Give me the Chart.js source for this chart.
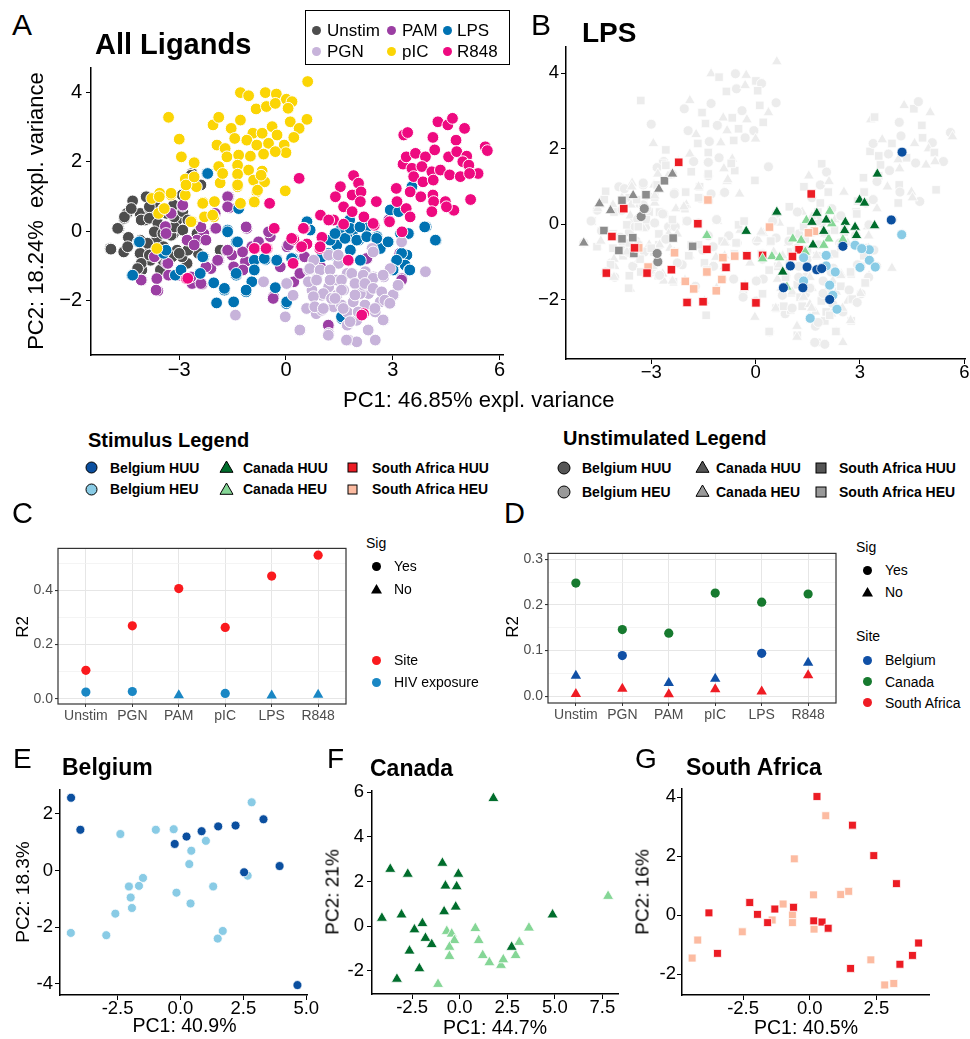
<!DOCTYPE html>
<html>
<head>
<meta charset="utf-8">
<script src="https://cdn.jsdelivr.net/npm/chart.js@4.4.1/dist/chart.umd.min.js"></script>
<style>
  body { margin: 0; background: #fff; font-family: "Liberation Sans", Arial, sans-serif; }
  #fig { position: relative; width: 970px; height: 1039px; overflow: hidden; }
  canvas { position: absolute; z-index: 1; }
  .t { position: absolute; white-space: nowrap; color: #000; line-height: 1; z-index: 2; }
  svg { position: absolute; z-index: 2; overflow: visible; }
  .box { position: absolute; border: 1.5px solid #000; z-index: 2; background: #fff; }
</style>
</head>
<body>
<div id="fig"></div>
<script>
// ---- panel A: all ligands, PC1 / PC2 ----
const unstimA = [[-4.94,-0.5],[-4.55,-0.6],[-4.7,0.08],[-4.55,0.37],[-4.47,0.51],[-4.31,0.87],[-4.43,-0.18],[-4.1,0.51],[-3.91,0.99],[-3.84,0.65],[-3.96,0.32],[-4.1,-0.26],[-4.15,-1.03],[-4.05,-1.12],[-3.81,-0.84],[-3.63,-0.21],[-3.55,0.08],[-3.35,-0.07],[-3.16,-0.07],[-2.9,0.03],[-2.78,0.32],[-2.64,1.66],[-2.43,1.33],[-3.63,0.7],[-3.16,0.75],[-2.92,1.04],[-3.06,0.32],[-3.44,-0.45],[-3.06,-0.55],[-2.78,-0.55],[-3.81,-0.5],[-2.78,-0.93],[-2.92,-0.74],[-3.53,-1.12],[-2.46,-0.64],[-1.85,-0.55],[-2.5,-0.07],[-3.35,0.51],[-4.1,-0.64],[-3.2,-0.74],
  [-4.92,-0.52],[-4.56,-0.6],[-4.73,0.08],[-4.54,0.41],[-4.35,0.65],[-3.93,0.99],[-3.84,0.7],[-4.07,0.32],[-3.84,0.37],[-3.6,0.22],[-3.7,-0.02],[-3.46,-0.07],[-3.23,-0.12],[-3.14,0.12],[-3.14,0.41],[-2.9,0.56],[-2.76,0.32],[-2.9,0.03],[-2.76,-0.55],[-3.0,-0.64],[-3.89,-0.35],[-4.07,-0.93],[-4.17,-1.08],[-3.84,-0.69],[-3.46,-0.84],[-2.67,1.61],[-2.39,1.33],[-4.45,-0.45]];
const pamA = [[-1.61,0.99],[-1.59,0.68],[-1.1,0.08],[-2.9,0.72],[-3.39,0.13],[-1.99,0.51],[-1.99,0.08],[-2.31,-0.07],[-2.5,-0.26],[-2.78,-0.26],[-3.67,-0.74],[-3.35,-0.93],[-3.63,-1.37],[-4.05,-1.41],[-3.6,-1.72],[-3.3,-1.27],[-3.0,-1.27],[-2.64,-1.51],[-2.36,-1.53],[-2.11,-1.08],[-1.89,-0.84],[-1.66,-0.57],[-1.52,-0.69],[-1.14,-0.88],[-0.96,-0.45],[-0.77,-0.31],[-0.44,-0.16],[-0.49,-0.02],[0.03,-0.45],[-0.16,-1.03],[-0.35,-1.89],[0.22,-1.46],[1.2,-2.71],[2.28,-0.79],[3.2,-0.64],[3.26,-1.37],[2.89,0.32],[0.97,-1.03],[0.52,-0.74],[-1.47,-1.03],[-1.21,-1.12],
  [-2.9,0.75],[-2.39,0.12],[-1.97,0.08],[-1.64,0.99],[-1.64,0.7],[-1.12,0.12],[-3.7,-0.74],[-3.32,-0.93],[-3.0,-1.22],[-4.07,-1.41],[-3.65,-1.7],[-2.58,-0.4],[-2.25,-0.26],[-1.92,-0.84],[-2.25,-1.03],[-2.39,-1.51],[-1.64,-0.55],[-1.22,-0.6],[-2.67,-1.32],[-3.37,-0.07],[-3.23,0.51],[0.07,-0.4],[0.39,-1.22],[-0.36,-1.94],[1.19,-2.71],[2.27,-0.79],[3.25,-1.41]];
const lpsA = [[-2.22,1.66],[-1.33,0.65],[-1.64,0.03],[-1.4,-0.31],[-2.31,-0.74],[-1.4,-1.27],[-2.03,-1.49],[-1.73,-1.7],[-1.95,-2.07],[-1.47,-2.04],[-1.12,-1.75],[-0.96,-1.46],[-0.89,-0.84],[-0.58,-0.82],[-0.25,-0.82],[-0.3,-1.63],[0.01,-2.09],[0.2,-0.79],[-4.33,-1.27],[-4.15,-0.31],[-3.44,-0.64],[-3.11,-1.27],[-2.41,-1.22],[0.59,0.27],[0.68,0.03],[1.01,-0.74],[1.34,-0.69],[1.53,0.03],[1.79,0.32],[1.9,0.03],[1.72,-0.18],[2.04,-0.26],[1.81,-0.55],[2.09,-0.84],[1.43,-0.4],[1.24,-0.26],[2.28,0.12],[2.56,-0.16],[2.89,-0.31],[2.65,-0.5],[3.26,-0.69],[3.4,-0.69],[3.35,-0.98],[3.47,-1.12],[3.03,-1.12],[3.22,-0.07],[2.93,0.61],[3.17,0.56],[3.45,-0.07],[3.54,1.28],[3.94,0.12],[4.22,-0.26],[1.57,-2.52],
  [1.66,-0.21],[1.99,-0.26],[2.27,-0.16],[1.8,0.08],[2.08,0.12],[2.55,-0.21],[2.87,-0.31],[3.25,-0.64],[3.11,-0.84],[3.48,-1.12],[3.01,-1.12],[1.38,-0.07],[1.19,-0.64],[-0.26,-0.84],[0.16,-0.79],[0.02,-2.04],[1.56,-2.47],[3.9,0.12],[4.2,-0.26],[3.44,-0.07],
  [-4.12,-0.31],[-3.37,-0.55],[-2.34,-0.74],[-1.64,-0.02],[-1.36,-0.31],[-0.89,-1.12],[-1.4,-1.22],[-1.73,-1.65],[-1.12,-1.7],[-0.61,-0.79],[-4.31,-1.27],[-2.95,-1.12],[-2.2,1.66]];
const pgnA = [[1.48,-0.72],[0.78,-0.84],[0.64,-1.12],[0.87,-1.37],[0.73,-1.7],[0.59,-2.23],[0.85,-2.38],[1.01,-1.85],[1.2,-1.61],[1.43,-1.41],[1.72,-1.22],[1.86,-1.22],[2.23,-1.17],[2.46,-1.32],[2.75,-1.32],[2.93,-1.08],[3.26,-0.31],[3.16,-1.56],[3.03,-1.85],[2.65,-2.04],[2.75,-2.57],[2.51,-2.33],[2.32,-1.8],[2.09,-1.8],[1.9,-1.99],[1.72,-2.33],[1.99,-2.57],[1.72,-2.71],[2.32,-2.86],[1.76,-3.14],[1.99,-3.19],[2.51,-3.14],[1.2,-2.95],[0.4,-2.86],[-0.02,-2.47],[-1.42,-2.42],[-0.63,-1.46],[0.03,-1.51],[0.2,-1.85],[1.43,-1.85],[1.62,-1.7],[1.34,-2.18],[2.42,-0.5],[3.92,-1.17],[1.2,-0.69],[1.48,-0.93],[2.18,-1.56],[1.01,-2.28],
  [1.47,-0.69],[0.67,-1.08],[0.96,-1.12],[1.24,-1.12],[0.63,-1.46],[0.86,-1.41],[1.24,-1.41],[1.56,-1.41],[1.85,-1.22],[2.17,-1.27],[2.45,-1.36],[2.73,-1.27],[1.94,-1.51],[2.22,-1.51],[2.45,-1.65],[2.69,-1.75],[3.01,-1.84],[3.15,-1.56],[1.56,-1.7],[1.05,-1.8],[1.28,-1.94],[0.77,-1.89],[0.58,-2.23],[0.81,-2.18],[1.05,-2.23],[1.56,-2.13],[1.89,-2.04],[2.22,-2.13],[2.5,-2.23],[2.78,-1.99],[2.92,-2.08],[1.61,-2.23],[2.03,-2.33],[1.8,-2.61],[2.73,-2.56],[2.31,-2.85],[1.7,-3.14],[1.19,-3.0],[0.39,-2.85],[0.02,-1.51],[3.25,-0.31],[2.45,-0.6],[1.94,-1.84],[1.38,-1.94]];
const picA = [[-3.3,3.28],[-3.0,2.65],[-2.94,2.14],[-2.58,1.97],[-2.83,1.5],[-2.52,1.28],[-2.83,1.04],[-3.23,1.04],[-3.55,1.09],[-3.44,0.65],[-2.33,0.83],[-2.29,0.41],[-2.03,0.41],[-2.64,0.27],[-1.28,3.99],[-1.05,3.9],[-0.58,3.99],[-0.27,3.95],[0.01,3.8],[0.17,3.73],[0.61,4.31],[-0.84,3.52],[-0.55,3.59],[-0.3,3.68],[0.06,3.54],[-2.05,3.06],[-1.89,3.28],[-1.54,2.96],[-1.28,3.2],[-0.93,2.82],[-0.67,2.82],[-0.39,3.01],[-0.25,2.77],[0.12,3.15],[0.59,3.22],[0.37,2.96],[0.22,2.7],[-1.94,2.48],[-1.71,2.38],[-1.44,2.67],[-1.1,2.62],[-0.82,2.48],[-0.49,2.53],[-0.05,2.48],[0.0,2.26],[-1.66,2.14],[-1.33,2.19],[-1.0,2.16],[-0.63,2.22],[-0.3,2.29],[-1.89,1.86],[-1.36,1.9],[-1.05,1.76],[-0.67,1.73],[-1.85,1.39],[-1.36,1.64],[-0.91,1.47],[-0.6,1.42],[-1.36,1.28],[-0.82,1.13],[-0.02,1.16],[-1.28,0.8],[-0.91,0.85],[-2.01,0.85],[-3.77,0.94],[-3.58,0.51],[-3.63,-0.5],
  [-3.23,1.09],[-3.56,0.99],[-3.42,0.65],[-2.67,0.27],[-2.81,1.33],[-2.58,1.56],[-2.34,0.8],[-2.06,0.46],[-1.36,1.33],[-0.89,0.84],[-0.8,1.18],[-0.7,1.61],[-1.78,1.66]];
const r848A = [[3.31,2.77],[3.42,2.84],[4.13,2.7],[4.27,3.15],[4.55,3.06],[4.68,3.25],[5.02,2.96],[4.78,2.62],[5.6,2.43],[5.66,2.32],[3.29,1.93],[3.38,2.14],[3.64,2.24],[3.92,2.14],[4.18,2.34],[4.57,2.14],[4.8,2.29],[5.08,2.16],[4.97,2.0],[3.54,1.81],[3.82,1.86],[4.1,1.71],[4.34,1.76],[4.6,1.62],[4.9,1.57],[5.14,1.9],[5.4,1.66],[5.16,1.66],[3.59,1.57],[3.85,1.42],[4.14,1.47],[3.1,1.23],[3.49,1.13],[3.79,0.99],[4.13,1.04],[4.15,0.85],[4.48,0.85],[5.19,0.91],[4.72,0.6],[4.51,0.7],[4.1,0.56],[3.38,0.65],[3.49,0.41],[3.12,0.85],[0.37,1.52],[-0.46,0.8],[1.9,1.6],[2.04,1.38],[1.53,1.28],[1.39,0.99],[1.86,1.04],[2.11,1.13],[2.09,0.85],[1.62,0.7],[2.54,0.85],[1.86,0.56],[2.19,0.41],[1.34,0.32],[0.97,0.46],[1.2,0.32],[2.48,0.17],[2.91,0.27],[3.26,-0.02],[1.62,0.2],[-0.33,0.08],[0.52,0.08],[0.22,-0.24],[0.42,-0.47],[0.59,-0.37],[0.95,-0.5],[1.01,-0.18],[-0.53,-0.5],[-0.86,-0.5],[1.76,-0.84],[0.2,-0.93],[2.18,-2.38],[-2.8,-1.37],
  [0.49,0.08],[0.16,-0.21],[0.44,-0.45],[0.96,-0.45],[1.75,-0.84],[2.13,-2.42],[2.45,0.22],[-0.89,-0.5],[-0.56,-0.5],[-2.76,-1.36]];

// ---- panel B: LPS by site / exposure, unstimulated in grey ----
const bUnstimBel = [[-3.29,0.2],[-3.2,0.41],[-2.81,-1.0],[-2.83,-0.78]];
const bUnstimCan = [[-4.94,-0.5],[-4.49,0.54],[-3.52,0.76],[-2.78,0.93],[-2.39,1.33],[-4.17,0.36]];
const bUnstimSA = [[-4.36,-0.17],[-3.84,0.63],[-3.15,0.78],[-2.62,1.15],[-3.84,-0.39],[-3.53,-0.36],[-2.37,-0.37],[-1.81,-0.59],[-3.93,-0.7],[-3.5,-0.78]];
const bBelHUU = [[4.21,1.91],[3.9,0.11],[2.51,-0.59],[1.0,-1.11],[1.48,-1.14],[1.76,-1.21],[1.9,-1.18],[1.36,-1.69],[2.13,-2.0],[0.8,-1.69]];
const bBelHEU = [[4.2,-0.28],[2.86,-0.56],[3.27,-0.68],[3.05,-0.65],[3.27,-0.96],[3.0,-1.15],[3.44,-1.14],[2.03,-0.83],[2.03,-1.11],[2.29,-1.27],[1.38,-0.89],[1.38,-1.51],[2.13,-1.62],[2.22,-1.89],[2.34,-2.26],[1.57,-2.5]];
const bCanHUU = [[3.5,1.33],[2.99,0.64],[3.13,0.56],[0.61,0.32],[-0.27,-0.19],[1.76,0.29],[1.62,0.05],[2.03,0.11],[2.58,0.05],[2.86,-0.08],[3.42,-0.04],[1.96,-0.19],[2.56,-0.17],[2.9,-0.3],[1.65,-0.55],[0.78,-1.27]];
const bCanHEU = [[-1.4,-0.3],[1.07,-0.39],[1.31,-0.43],[1.46,0.1],[2.13,0.34],[2.19,0.01],[2.1,-0.39],[1.96,-0.56],[2.51,-0.41],[1.43,-0.74],[0.47,-0.86],[0.69,-0.89],[0.9,-1.67],[0.2,-0.92]];
const bSAHUU = [[-2.21,1.64],[1.6,0.8],[-1.66,0.01],[-4.13,-0.33],[-3.48,-0.63],[-1.4,-0.67],[1.25,-0.68],[1.06,-0.86],[0.2,-0.83],[-0.25,-0.84],[-0.85,-1.15],[-2.42,-1.21],[-3.12,-1.3],[-4.29,-1.3],[-0.32,-1.65],[-1.51,-2.06],[-1.97,-2.08],[0.01,-2.09],[-3.79,0.41]];
const bSAHEU = [[-1.37,0.64],[0.4,-0.08],[1.69,-0.19],[1.52,-0.23],[-2.33,-0.76],[-0.94,-0.89],[-0.6,-0.85],[-1.4,-1.27],[-0.97,-1.47],[-2.02,-1.52],[-1.78,-1.72],[-1.13,-1.77],[-3.09,-1.14],[-3.36,-0.63]];

// ---- panels C and D: R2 per stimulus ----
const stimCats = ['Unstim', 'PGN', 'PAM', 'pIC', 'LPS', 'R848'];
const siteR2 = [0.105, 0.269, 0.406, 0.263, 0.452, 0.529];
const siteSig = [1, 1, 1, 1, 1, 1];
const hivR2 = [0.025, 0.027, 0.013, 0.02, 0.012, 0.015];
const hivSig = [1, 1, 0, 1, 0, 0];
const belR2 = [0.045, 0.089, 0.029, 0.038, 0.094, 0.073];
const belSig = [0, 1, 0, 0, 1, 0];
const canR2 = [0.248, 0.146, 0.138, 0.226, 0.206, 0.224];
const canSig = [1, 1, 1, 1, 1, 1];
const saR2 = [0.005, 0.016, 0.004, 0.015, 0.01, 0.046];
const saSig = [0, 0, 0, 0, 0, 0];

// ---- panels E, F, G: unstimulated per site ----
const belHUU = [[-4.35,2.57],[-3.98,1.44],[-0.23,0.94],[0.24,1.2],[0.84,1.39],[1.5,1.56],[2.19,1.59],[3.3,1.81],[3.94,0.16],[2.53,-0.06],[4.65,-4.04]];
const belHEU = [[-4.36,-2.2],[-2.95,-2.28],[-2.59,-1.52],[-2.39,1.29],[-0.98,1.44],[-0.27,1.46],[1.01,1.05],[0.43,0.7],[0.35,0.23],[-0.16,-0.78],[0.4,-1.16],[1.3,-0.56],[2.83,2.41],[2.67,-0.18],[-1.49,-0.26],[-1.65,-0.54],[-2.05,-0.56],[-1.98,-0.95],[-1.93,-1.32],[1.68,-2.13],[1.48,-2.4]];
const canHUU = [[1.77,5.73],[-3.65,2.56],[-2.73,2.34],[-0.91,2.83],[-0.07,2.34],[-0.75,1.81],[-0.16,1.78],[-0.82,0.66],[-0.21,0.87],[-4.09,0.37],[-3.06,0.52],[-1.96,0.13],[-2.38,-0.15],[-1.8,-0.53],[-1.47,-0.81],[-2.64,-1.1],[-2.12,-1.89],[-3.3,-2.36],[4.88,0.52],[2.73,-0.93]];
const canHEU = [[7.8,1.35],[-0.68,-0.22],[-0.42,-0.34],[-0.28,-0.63],[-0.54,-0.93],[-0.54,-1.34],[0.82,-0.09],[1.0,-0.63],[1.21,-1.3],[1.56,-1.62],[2.17,-1.74],[2.29,-1.49],[2.94,-1.3],[3.13,-0.71],[3.64,-0.07],[-1.14,-2.59]];
const saHUU = [[0.27,4.02],[1.6,3.05],[2.4,2.02],[3.25,1.07],[-3.78,0.08],[-3.46,-1.29],[-2.25,0.43],[-1.96,0.03],[-1.31,0.21],[-1.58,-0.25],[-0.61,0.27],[0.15,-0.19],[0.46,-0.23],[0.69,-0.44],[1.53,-1.8],[3.38,-1.66],[3.85,-1.36],[4.08,-0.94]];
const saHEU = [[0.6,3.37],[-0.58,1.91],[0.14,0.69],[1.16,0.7],[1.46,0.81],[-1.0,0.38],[-0.65,0.01],[-0.65,-0.25],[0.16,-0.47],[-1.41,-0.16],[-2.53,-0.56],[-4.2,-0.84],[-4.41,-1.45],[2.29,-1.51],[2.81,-2.36],[3.15,-2.31]];

const pcaTicks = [-3, 0, 3, 6];
const pcaYTicks = [-2, 0, 2, 4];

const col = {
  unstim: '#4d4d4d', pam: '#9b3ea3', lps: '#0072b2', pgn: '#c7b3da', pic: '#fbd505', r848: '#ee0a80',
  belHUU: '#0b4f9f', belHEU: '#89cbe5', canHUU: '#006d2c', canHEU: '#85d696',
  saHUU: '#ec1c24', saHEU: '#fcbba1', site: '#fa1a1e', hiv: '#1a87c4'
};
const FONT = '"Liberation Sans", Arial, sans-serif';
const fig = document.getElementById('fig');

function pts(arr) {
  return arr.map(([x, y]) => ({ x: x, y: y }));
}

function txt(s, x, base, size, o = {}) {
  const d = document.createElement('div');
  d.className = 't';
  d.textContent = s;
  d.style.fontSize = size + 'px';
  d.style.left = x + 'px';
  d.style.top = (base - 0.8465 * size) + 'px';
  if (o.bold) d.style.fontWeight = 'bold';
  if (o.center) d.style.transform = 'translateX(-50%)';
  if (o.color) d.style.color = o.color;
  fig.appendChild(d);
}
// text centred vertically on cy
function txtC(s, x, cy, size, o = {}) {
  txt(s, x, cy + 0.358 * size, size, o);
}
function vtxt(s, cx, cy, size) {
  const d = document.createElement('div');
  d.className = 't';
  d.textContent = s;
  d.style.fontSize = size + 'px';
  d.style.left = cx + 'px';
  d.style.top = cy + 'px';
  d.style.transform = 'translate(-50%,-50%) rotate(-90deg)';
  fig.appendChild(d);
}
function mark(kind, cx, cy, size, fill, stroke) {
  const s = size, h = s / 2;
  let inner;
  if (kind === 'circle') inner = `<circle cx="${h}" cy="${h}" r="${h}"/>`;
  else if (kind === 'rect') inner = `<rect x="0" y="0" width="${s}" height="${s}"/>`;
  else inner = `<polygon points="${h},0 ${s},${s * 0.87} 0,${s * 0.87}"/>`;
  const g = document.createElementNS('http://www.w3.org/2000/svg', 'svg');
  g.setAttribute('width', s);
  g.setAttribute('height', s);
  g.style.left = (cx - h) + 'px';
  g.style.top = (cy - (kind === 'triangle' ? s * 0.5 : h)) + 'px';
  g.innerHTML = `<g fill="${fill}" stroke="${stroke || 'none'}" stroke-width="1">${inner}</g>`;
  fig.appendChild(g);
}

const boxBorder = {
  id: 'boxBorder',
  beforeDatasetsDraw(chart) {
    const a = chart.chartArea, ctx = chart.ctx;
    ctx.save();
    ctx.strokeStyle = '#333';
    ctx.lineWidth = 1.2;
    ctx.strokeRect(a.left, a.top, a.right - a.left, a.bottom - a.top);
    ctx.restore();
  }
};

function makeCanvas(plot, pad) {
  const [L, T, R, B] = plot;
  const cv = document.createElement('canvas');
  cv.width = Math.round(R - L + pad[0] + pad[2]);
  cv.height = Math.round(B - T + pad[1] + pad[3]);
  cv.style.left = (L - pad[0]) + 'px';
  cv.style.top = (T - pad[1]) + 'px';
  fig.appendChild(cv);
  return cv;
}

// classic ggplot axes: black left/bottom lines, no grid
function pcaPanel(plot, pad, xr, yr, xt, yt, xfmt, yfmt, fontSize, yGap, datasets) {
  const cv = makeCanvas(plot, pad);
  const axis = (range, ticks, fmt, gap, fit) => ({
    type: 'linear', min: range[0], max: range[1],
    afterBuildTicks: s => { s.ticks = ticks.map(v => ({ value: v })); },
    afterFit: fit,
    ticks: { autoSkip: false, maxRotation: 0, padding: gap, color: '#000',
      font: { family: FONT, size: fontSize, lineHeight: 1 }, callback: v => fmt(v) },
    grid: { display: true, drawOnChartArea: false, drawTicks: true, tickLength: 5, color: '#000', lineWidth: 1 },
    border: { display: true, color: '#000', width: 1.5 }
  });
  new Chart(cv, {
    type: 'scatter',
    data: { datasets: datasets },
    options: {
      responsive: false, animation: false, events: [],
      layout: { autoPadding: false, padding: { left: 0, top: pad[1], right: pad[2], bottom: 0 } },
      plugins: { legend: { display: false }, tooltip: { enabled: false } },
      scales: {
        x: axis(xr, xt, xfmt, 0, s => { s.height = pad[3]; }),
        y: axis(yr, yt, yfmt, yGap, s => { s.width = pad[0]; })
      }
    }
  });
}

// theme_bw style R2 panel
function r2Panel(plot, pad, yr, yt, isMajor, datasets) {
  const cv = makeCanvas(plot, pad);
  const gridCol = c => (isMajor(c.tick.value) ? '#e6e6e6' : '#f1f1f1');
  new Chart(cv, {
    type: 'scatter',
    data: { datasets: datasets },
    plugins: [boxBorder],
    options: {
      responsive: false, animation: false, events: [],
      layout: { autoPadding: false, padding: { left: 0, top: pad[1], right: pad[2], bottom: 0 } },
      plugins: { legend: { display: false }, tooltip: { enabled: false } },
      scales: {
        x: {
          type: 'linear', min: 0.4, max: 6.6,
          afterBuildTicks: s => { s.ticks = stimCats.map((c, i) => ({ value: i + 1 })); },
          afterFit: s => { s.height = pad[3]; },
          ticks: { autoSkip: false, maxRotation: 0, padding: 2, color: '#4d4d4d',
            font: { family: FONT, size: 14, lineHeight: 1 }, callback: v => stimCats[Math.round(v) - 1] },
          grid: { color: '#e6e6e6', lineWidth: 1, tickLength: 3, tickColor: '#333' },
          border: { display: false }
        },
        y: {
          type: 'linear', min: yr[0], max: yr[1],
          afterBuildTicks: s => { s.ticks = yt.map(v => ({ value: v })); },
          afterFit: s => { s.width = pad[0]; },
          ticks: { autoSkip: false, padding: 2, color: '#4d4d4d', font: { family: FONT, size: 14 },
            callback: v => (isMajor(v) ? v.toFixed(1) : '') },
          grid: { color: gridCol, lineWidth: c => (isMajor(c.tick.value) ? 1.1 : 0.8), tickLength: 3,
            tickColor: c => (isMajor(c.tick.value) ? '#333' : 'rgba(0,0,0,0)') },
          border: { display: false }
        }
      }
    }
  });
}

function dot(arr, color, style, r, bw) {
  return { data: pts(arr), backgroundColor: color, borderColor: '#fff', borderWidth: bw,
    pointRadius: r, pointStyle: style };
}
function r2Set(vals, sig, color) {
  return {
    data: vals.map((v, i) => ({ x: i + 1, y: v })),
    backgroundColor: color, borderWidth: 0,
    pointStyle: sig.map(s => (s ? 'circle' : 'triangle')),
    pointRadius: sig.map(s => (s ? 4.6 : 6))
  };
}

const minusFmt = v => (v < 0 ? '\u2212' + Math.abs(v) : String(v));
const decFmt = v => v.toFixed(1);
const intFmt = v => String(v);

// ---- A ----
pcaPanel([91, 68, 503, 355], [50, 14, 20, 34], [-5.48, 6.1], [-3.57, 4.7], pcaTicks, pcaYTicks, minusFmt, minusFmt, 20, 4, [
  dot(r848A, col.r848, 'circle', 5.9, 1),
  dot(picA, col.pic, 'circle', 5.9, 1),
  dot(pgnA, col.pgn, 'circle', 5.9, 1),
  dot(lpsA, col.lps, 'circle', 5.9, 1),
  dot(pamA, col.pam, 'circle', 5.9, 1),
  dot(unstimA, col.unstim, 'circle', 5.9, 1)
]);

// ---- B ----
const bgAll = [...unstimA, ...pamA, ...lpsA, ...pgnA, ...picA, ...r848A];
const bgShapes = ['circle', 'triangle', 'rect'];
const bgRad = [5, 6.2, 6];
pcaPanel([566, 47, 965, 359], [40, 12, 5, 34], [-5.45, 6.02], [-3.58, 4.7], pcaTicks, pcaYTicks, minusFmt, minusFmt, 18.5, 2, [
  dot(bBelHUU, col.belHUU, 'circle', 5, 0.8),
  dot(bBelHEU, col.belHEU, 'circle', 5, 0.8),
  dot(bCanHUU, col.canHUU, 'triangle', 6.2, 0.8),
  dot(bCanHEU, col.canHEU, 'triangle', 6.2, 0.8),
  dot(bSAHUU, col.saHUU, 'rect', 6, 0.8),
  dot(bSAHEU, col.saHEU, 'rect', 6, 0.8),
  dot(bUnstimBel, '#8c8c8c', 'circle', 5, 0.8),
  dot(bUnstimCan, '#8c8c8c', 'triangle', 6.2, 0.8),
  dot(bUnstimSA, '#8c8c8c', 'rect', 6, 0.8),
  { data: pts(bgAll), backgroundColor: '#ececec', borderColor: '#fff', borderWidth: 0.8,
    pointStyle: c => bgShapes[c.dataIndex % 3], pointRadius: c => bgRad[c.dataIndex % 3] }
]);

// ---- C ----
r2Panel([58, 546, 346, 704], [44, 8, 10, 22], [-0.019, 0.554], [0, 0.1, 0.2, 0.3, 0.4, 0.5],
  v => Math.round(v * 10) % 2 === 0, [
    r2Set(siteR2, siteSig, col.site),
    r2Set(hivR2, hivSig, col.hiv)
  ]);

// ---- D ----
r2Panel([548, 551, 836, 703], [40, 8, 10, 22], [-0.015, 0.313], [0, 0.05, 0.1, 0.15, 0.2, 0.25, 0.3],
  v => Math.round(v * 100) % 10 === 0, [
    r2Set(saR2, saSig, '#ef1c24'),
    r2Set(canR2, canSig, '#177a2f'),
    r2Set(belR2, belSig, '#1050a6')
  ]);

// ---- E, F, G ----
pcaPanel([60, 788, 307, 995], [44, 10, 16, 30], [-4.79, 5.03], [-4.39, 2.87], [-2.5, 0, 2.5, 5], [-4, -2, 0, 2],
  decFmt, intFmt, 18.5, 2, [dot(belHUU, col.belHUU, 'circle', 4.5, 0.8), dot(belHEU, col.belHEU, 'circle', 4.5, 0.8)]);
pcaPanel([372, 788, 618, 994], [40, 10, 16, 30], [-4.61, 8.32], [-3.03, 6.09], [-2.5, 0, 2.5, 5, 7.5], [-2, 0, 2, 4, 6],
  decFmt, intFmt, 18.5, 3, [dot(canHUU, col.canHUU, 'triangle', 6.4, 0.8), dot(canHEU, col.canHEU, 'triangle', 6.4, 0.8)]);
pcaPanel([682, 788, 929, 995], [40, 10, 12, 30], [-4.79, 4.47], [-2.7, 4.3], [-2.5, 0, 2.5], [-2, 0, 2, 4],
  decFmt, intFmt, 18.5, 1, [dot(saHUU, col.saHUU, 'rect', 5.6, 0.8), dot(saHEU, col.saHEU, 'rect', 5.6, 0.8)]);

// ---- text: panel letters, titles, axis titles ----
txt('A', 12, 35, 30);
txt('All Ligands', 95, 55, 29, { bold: true });
txt('B', 531, 35, 30);
txt('LPS', 582, 43, 28, { bold: true });
vtxt('PC2: 18.24%\u00a0 expl. variance', 36, 211, 22);
txt('PC1: 46.85% expl. variance', 343, 408, 22);

// legend box of A
const lb = document.createElement('div');
lb.className = 'box';
lb.style.left = '305px'; lb.style.top = '10px'; lb.style.width = '203px'; lb.style.height = '53px';
fig.appendChild(lb);
const aLegend = [['Unstim', col.unstim, 316, 327, 30], ['PAM', col.pam, 391, 402, 30], ['LPS', col.lps, 447, 457, 30],
  ['PGN', col.pgn, 316, 327, 51.5], ['pIC', col.pic, 391, 402, 51.5], ['R848', col.r848, 447, 457, 51.5]];
aLegend.forEach(([lab, c, mx, tx, cy]) => { mark('circle', mx, cy, 9, c); txtC(lab, tx, cy, 17); });

// stimulus / unstimulated legends
txt('Stimulus Legend', 88, 447, 20, { bold: true });
txt('Unstimulated Legend', 563, 445, 20, { bold: true });
const stimLeg = [
  ['circle', col.belHUU, 91, 110, 467.7, 'Belgium HUU'], ['triangle', col.canHUU, 226, 243, 467.7, 'Canada HUU'],
  ['rect', col.saHUU, 352, 372, 467.7, 'South Africa HUU'],
  ['circle', col.belHEU, 91, 110, 489, 'Belgium HEU'], ['triangle', col.canHEU, 226, 243, 489, 'Canada HEU'],
  ['rect', col.saHEU, 352, 372, 489, 'South Africa HEU']
];
stimLeg.forEach(([k, c, mx, tx, cy, lab]) => {
  mark(k, mx, cy, k === 'rect' ? 9 : k === 'triangle' ? 13 : 11, c, '#000');
  txtC(lab, tx, cy, 14, { bold: true });
});
const unLeg = [
  ['circle', '#555', 564, 582, 467.7, 'Belgium HUU'], ['triangle', '#555', 702, 716, 467.7, 'Canada HUU'],
  ['rect', '#555', 821, 839, 467.7, 'South Africa HUU'],
  ['circle', '#999', 564, 582, 491.5, 'Belgium HEU'], ['triangle', '#999', 702, 716, 491.5, 'Canada HEU'],
  ['rect', '#999', 821, 839, 491.5, 'South Africa HEU']
];
unLeg.forEach(([k, c, mx, tx, cy, lab]) => {
  mark(k, mx, cy, k === 'rect' ? 10 : k === 'triangle' ? 13 : 12, c, '#000');
  txtC(lab, tx, cy, 14, { bold: true });
});

// C, D letters, axis titles and legends
txt('C', 12, 524, 29);
txt('D', 504, 524, 29);
vtxt('R2', 22, 627, 17);
vtxt('R2', 512, 627, 17);
txtC('Sig', 366, 542.7, 14);
mark('circle', 376, 566, 9, '#000'); txtC('Yes', 394, 566, 14);
mark('triangle', 376, 589, 11, '#000'); txtC('No', 394, 589, 14);
mark('circle', 376, 660, 9, col.site); txtC('Site', 394, 660, 14);
mark('circle', 376, 682.3, 9, col.hiv); txtC('HIV exposure', 394, 682.3, 14);

txtC('Sig', 856, 547, 14);
mark('circle', 867, 570, 9, '#000'); txtC('Yes', 885, 570, 14);
mark('triangle', 867, 592, 11, '#000'); txtC('No', 885, 592, 14);
txtC('Site', 856, 636, 14);
mark('circle', 867, 660, 9, '#1050a6'); txtC('Belgium', 885, 660, 14);
mark('circle', 867, 681.7, 9, '#177a2f'); txtC('Canada', 885, 681.7, 14);
mark('circle', 867, 702.7, 9, '#ef1c24'); txtC('South Africa', 885, 702.7, 14);

// E, F, G
txt('E', 13, 769, 28);
txt('Belgium', 62, 775, 23, { bold: true });
txt('F', 327, 769, 28);
txt('Canada', 370, 776, 23, { bold: true });
txt('G', 635, 769, 28);
txt('South Africa', 686, 775, 23, { bold: true });
vtxt('PC2: 18.3%', 22, 892, 19);
vtxt('PC2: 21%', 332, 892, 19);
vtxt('PC2: 16%', 642, 892, 19);
txt('PC1: 40.9%', 184.5, 1033, 19.5, { center: true });
txt('PC1: 44.7%', 495, 1035, 19.5, { center: true });
txt('PC1: 40.5%', 806, 1035, 19.5, { center: true });
</script>
</body>
</html>
